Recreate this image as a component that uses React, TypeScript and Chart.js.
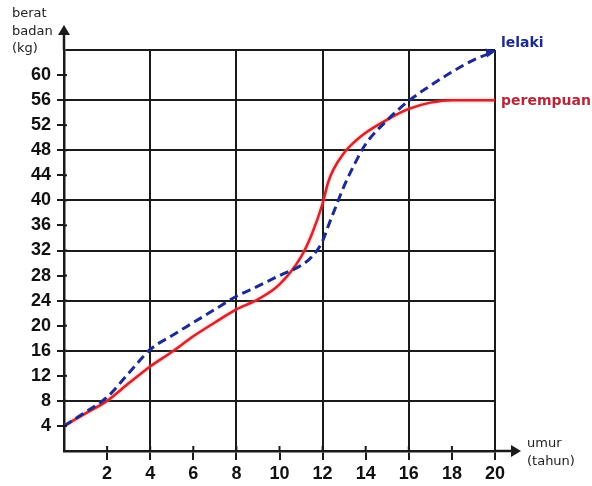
import React, { useEffect, useRef } from 'react';
import { Chart, registerables } from 'chart.js';

Chart.register(...registerables);

const ages = [0, 1, 2, 3, 4, 5, 6, 7, 8, 9, 10, 11, 11.5, 12, 12.25, 12.5, 13, 13.5, 14, 15, 16, 17, 18, 19, 20];
const lelaki = [4, 6.2, 8.6, 12.4, 16.2, 18.4, 20.5, 22.6, 24.7, 26.3, 28, 29.6, 31, 33.5, 35.8, 38, 42.3, 45.9, 49, 52.8, 55.9, 58.3, 60.5, 62.4, 63.8];
const perempuan = [4, 6, 8, 10.8, 13.5, 15.8, 18.3, 20.5, 22.6, 24.2, 26.6, 31, 34.6, 39.5, 42.8, 44.9, 47.6, 49.4, 50.8, 52.9, 54.6, 55.6, 56, 56, 56];

const xTickLabels = [2, 4, 6, 8, 10, 12, 14, 16, 18, 20];
const xGridValues = [4, 8, 12, 16, 20];
const yTickLabels = [4, 8, 12, 16, 20, 24, 28, 32, 36, 40, 44, 48, 52, 56, 60];
const yGridValues = [8, 16, 24, 32, 40, 48, 56, 64];

const seriesNames = ['lelaki', 'perempuan'];
const yTitle = ['berat', 'badan', '(kg)'];
const xTitle = ['umur', '(tahun)'];

const INK = '#1a1a1a';
const BLUE = '#1d2a8f';
const RED = '#d0262c';

const decor = {
  id: 'decor',
  beforeDatasetDraw(chart: any, args: any) {
    if (args.index === 1) {
      const ctx = chart.ctx;
      ctx.save();
      ctx.shadowColor = 'rgba(240,110,120,0.7)';
      ctx.shadowBlur = 3;
    }
  },
  afterDatasetDraw(chart: any, args: any) {
    if (args.index === 1) chart.ctx.restore();
  },
  afterDraw(chart: any) {
    const { ctx, chartArea: a, scales } = chart;
    const x = scales.x;
    const y = scales.y;
    ctx.save();
    ctx.strokeStyle = INK;
    ctx.fillStyle = INK;
    ctx.lineWidth = 2.5;
    ctx.beginPath();
    ctx.moveTo(a.left, a.top);
    ctx.lineTo(a.left, a.top - 16);
    ctx.stroke();
    ctx.beginPath();
    ctx.moveTo(a.left, a.top - 25);
    ctx.lineTo(a.left - 6, a.top - 15);
    ctx.lineTo(a.left + 6, a.top - 15);
    ctx.closePath();
    ctx.fill();
    ctx.beginPath();
    ctx.moveTo(a.right, a.bottom);
    ctx.lineTo(a.right + 17, a.bottom);
    ctx.stroke();
    ctx.beginPath();
    ctx.moveTo(a.right + 26, a.bottom);
    ctx.lineTo(a.right + 16, a.bottom - 6);
    ctx.lineTo(a.right + 16, a.bottom + 6);
    ctx.closePath();
    ctx.fill();
    ctx.lineWidth = 2;
    xTickLabels.forEach((v) => {
      const px = x.getPixelForValue(v);
      ctx.beginPath();
      ctx.moveTo(px, a.bottom);
      ctx.lineTo(px, a.bottom - 5);
      ctx.stroke();
    });
    yTickLabels.forEach((v) => {
      const py = y.getPixelForValue(v);
      ctx.beginPath();
      ctx.moveTo(a.left, py);
      ctx.lineTo(a.left + 3, py);
      ctx.stroke();
    });
    ctx.fillStyle = '#222';
    ctx.font = '13px "DejaVu Sans"';
    ctx.textAlign = 'left';
    ctx.textBaseline = 'alphabetic';
    yTitle.forEach((t, i) => ctx.fillText(t, 12, 17 + i * 17.5));
    xTitle.forEach((t, i) => ctx.fillText(t, a.right + 32, a.bottom - 4 + i * 18));
    ctx.font = 'bold 14px "DejaVu Sans"';
    const n = ages.length - 1;
    const bx = x.getPixelForValue(ages[n]);
    const by = y.getPixelForValue(lelaki[n]);
    const ry = y.getPixelForValue(perempuan[n]);
    ctx.fillStyle = BLUE;
    ctx.textBaseline = 'middle';
    ctx.fillText(seriesNames[0], bx + 6, by - 8);
    ctx.fillStyle = '#b5283a';
    ctx.fillText(seriesNames[1], bx + 6, ry + 1);
    const px0 = x.getPixelForValue(ages[n - 1]);
    const py0 = y.getPixelForValue(lelaki[n - 1]);
    const ang = Math.atan2(by - py0, bx - px0) * 0.5;
    ctx.fillStyle = BLUE;
    ctx.translate(bx, by);
    ctx.rotate(ang);
    ctx.beginPath();
    ctx.moveTo(1, 0);
    ctx.lineTo(-9, -4.5);
    ctx.lineTo(-9, 4.5);
    ctx.closePath();
    ctx.fill();
    ctx.restore();
  },
};

export default function App() {
  const ref = useRef<HTMLCanvasElement | null>(null);
  useEffect(() => {
    if (!ref.current) return;
    const chart = new Chart(ref.current, {
      type: 'line',
      data: {
        datasets: [
          {
            label: seriesNames[0],
            data: ages.map((a, i) => ({ x: a, y: lelaki[i] })),
            borderColor: BLUE,
            borderWidth: 3,
            borderDash: [9, 5],
            pointRadius: 0,
            cubicInterpolationMode: 'monotone',
            fill: false,
          },
          {
            label: seriesNames[1],
            data: ages.map((a, i) => ({ x: a, y: perempuan[i] })),
            borderColor: RED,
            borderWidth: 2.5,
            pointRadius: 0,
            cubicInterpolationMode: 'monotone',
            fill: false,
          },
        ],
      },
      options: {
        animation: false,
        responsive: false,
        maintainAspectRatio: false,
        layout: { padding: { top: 50, right: 97, left: 0, bottom: 0 } },
        plugins: { legend: { display: false }, tooltip: { enabled: false } },
        scales: {
          x: {
            type: 'linear',
            min: 0,
            max: 20,
            afterFit: (s: any) => { s.height = 35; },
            afterBuildTicks: (s: any) => { s.ticks = [0, ...xTickLabels].map((v) => ({ value: v })); },
            border: { color: INK, width: 2.5 },
            grid: {
              color: (c: any) => (xGridValues.includes(c.tick?.value) ? INK : 'rgba(0,0,0,0)'),
              tickColor: (c: any) => (xTickLabels.includes(c.tick?.value) ? INK : 'rgba(0,0,0,0)'),
              lineWidth: 2,
              tickWidth: 2,
              tickLength: 9,
            },
            ticks: {
              autoSkip: false,
              maxRotation: 0,
              padding: 3,
              color: '#111',
              font: { family: '"Liberation Sans", Arial', size: 18, weight: 'bold' },
              callback: (v: any) => (xTickLabels.includes(v) ? String(v) : ''),
            },
          },
          y: {
            type: 'linear',
            min: 0,
            max: 64,
            afterFit: (s: any) => { s.width = 64; },
            afterBuildTicks: (s: any) => {
              const vals: number[] = [0];
              for (let v = 4; v <= 64; v += 4) vals.push(v);
              s.ticks = vals.map((v) => ({ value: v }));
            },
            border: { color: INK, width: 2.5 },
            grid: {
              color: (c: any) => (yGridValues.includes(c.tick?.value) ? INK : 'rgba(0,0,0,0)'),
              tickColor: (c: any) => (yTickLabels.includes(c.tick?.value) ? INK : 'rgba(0,0,0,0)'),
              lineWidth: 2,
              tickWidth: 2,
              tickLength: 7,
            },
            ticks: {
              autoSkip: false,
              padding: 6,
              color: '#111',
              font: { family: '"Liberation Sans", Arial', size: 18, weight: 'bold' },
              callback: (v: any) => (yTickLabels.includes(v) ? String(v) : ''),
            },
          },
        },
      },
      plugins: [decor],
    } as any);
    return () => chart.destroy();
  }, []);
  return (
    <div style={{ position: 'absolute', left: 0, top: 0, width: 592, height: 486, background: '#fff' }}>
      <canvas ref={ref} width={592} height={486} style={{ display: 'block' }} />
    </div>
  );
}
